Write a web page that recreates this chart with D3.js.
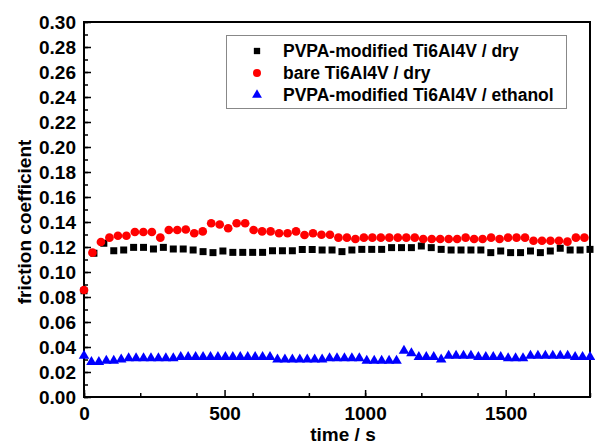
<!DOCTYPE html>
<html>
<head>
<meta charset="utf-8">
<script src="https://cdn.jsdelivr.net/npm/d3@7"></script>
<style>
  body { margin: 0; background: #fff; }
  svg { font-family: Arial, 'Liberation Sans', sans-serif; font-weight: bold; }
</style>
</head>
<body>
<svg id="chart" width="595" height="447"></svg>
<script>
// sampling length of each run, seconds
const duration = 1800
const blackStep = 1800 / 51
const redStep = 30.17
const blueStep = 1800 / 68

const blackValues = [
  0.085, 0.115, 0.123, 0.117, 0.1176, 0.1197, 0.1197, 0.1184, 0.1197, 0.1184,
  0.1184, 0.1176, 0.1163, 0.1155, 0.1168, 0.1157, 0.1157, 0.1157, 0.1157, 0.117,
  0.117, 0.117, 0.118, 0.118, 0.1176, 0.1176, 0.1163, 0.1176, 0.1181, 0.1181,
  0.1181, 0.1195, 0.1195, 0.1195, 0.1208, 0.1195, 0.1181, 0.1176, 0.1176, 0.1176,
  0.1176, 0.1155, 0.1168, 0.1155, 0.1155, 0.1168, 0.1155, 0.1168, 0.119, 0.1176,
  0.1176, 0.1181
]

const redValues = [
  0.0856, 0.1155, 0.124, 0.1275, 0.129, 0.129, 0.132, 0.132, 0.132, 0.1275,
  0.1336, 0.1336, 0.134, 0.131, 0.1325, 0.139, 0.138, 0.135, 0.139, 0.139,
  0.1336, 0.1325, 0.1325, 0.131, 0.131, 0.1325, 0.1296, 0.131, 0.1298, 0.1298,
  0.1275, 0.1275, 0.1264, 0.1275, 0.1275, 0.1275, 0.1275, 0.1275, 0.1275, 0.1275,
  0.1264, 0.1264, 0.1264, 0.1264, 0.1264, 0.1275, 0.1264, 0.1264, 0.1275, 0.1264,
  0.1275, 0.1275, 0.1275, 0.125, 0.125, 0.125, 0.125, 0.1243, 0.1275, 0.1275
]

const blueValues = [
  0.033, 0.028, 0.028, 0.029, 0.029, 0.030, 0.031, 0.031, 0.031, 0.031,
  0.031, 0.031, 0.031, 0.032, 0.032, 0.032, 0.032, 0.032, 0.032, 0.032,
  0.032, 0.032, 0.032, 0.032, 0.032, 0.032, 0.030, 0.030, 0.030, 0.030,
  0.030, 0.030, 0.030, 0.031, 0.031, 0.031, 0.031, 0.031, 0.029, 0.029,
  0.029, 0.029, 0.029, 0.037, 0.035, 0.032, 0.032, 0.032, 0.030, 0.033,
  0.033, 0.033, 0.033, 0.032, 0.032, 0.032, 0.032, 0.031, 0.031, 0.031,
  0.033, 0.033, 0.033, 0.033, 0.033, 0.033, 0.032, 0.032, 0.032
]

const seriesNames = [
  'PVPA-modified Ti6Al4V / dry',
  'bare Ti6Al4V / dry',
  'PVPA-modified Ti6Al4V / ethanol'
]

const xTicks = [0, 500, 1000, 1500]
const yTicks = [0, 0.02, 0.04, 0.06, 0.08, 0.10, 0.12, 0.14, 0.16, 0.18, 0.20, 0.22, 0.24, 0.26, 0.28, 0.30]

const margin = { top: 22, right: 5, bottom: 50, left: 84 }
const width = 595 - margin.left - margin.right
const height = 447 - margin.top - margin.bottom

const svg = d3.select('#chart')
const g = svg.append('g')
  .attr('transform', 'translate(' + margin.left + ',' + margin.top + ')')

const x = d3.scaleLinear().domain([0, duration]).range([0, width])
const y = d3.scaleLinear().domain([0, 0.30]).range([height, 0])

function toPoints (values, step) {
  return values.map((v, i) => ({ t: i * step, v: v }))
}

const series = [
  { name: seriesNames[0], data: toPoints(blackValues, blackStep), color: '#000', symbol: d3.symbolSquare, size: 49, legendSize: 40 },
  { name: seriesNames[1], data: toPoints(redValues, redStep), color: '#ff0000', symbol: d3.symbolCircle, size: 60, legendSize: 50 },
  { name: seriesNames[2], data: toPoints(blueValues, blueStep), color: '#0000ff', symbol: d3.symbolTriangle, size: 48, legendSize: 42 }
]

// frame
g.append('rect')
  .attr('width', width)
  .attr('height', height)
  .attr('fill', 'none')
  .attr('stroke', '#000')
  .attr('stroke-width', 2)

// markers, blue under black under red like the original
const order = [2, 0, 1]
order.forEach(k => {
  const s = series[k]
  g.append('g')
    .selectAll('path')
    .data(s.data)
    .enter()
    .append('path')
    .attr('transform', d => 'translate(' + x(d.t) + ',' + y(d.v) + ')')
    .attr('d', d3.symbol().type(s.symbol).size(s.size))
    .attr('fill', s.color)
})

// axes with inward ticks
const xAxis = g.append('g')
  .attr('transform', 'translate(0,' + height + ')')
  .call(d3.axisBottom(x).tickValues(xTicks).tickSize(0).tickPadding(10).tickFormat(d3.format('d')))
xAxis.select('.domain').remove()
xAxis.selectAll('text').attr('font-size', 19).attr('font-weight', 'bold').attr('fill', '#000')

g.append('g')
  .attr('transform', 'translate(0,' + height + ')')
  .call(d3.axisTop(x).ticks(8).tickSize(4).tickFormat(''))
  .call(a => a.select('.domain').remove())
  .call(a => a.selectAll('line').attr('stroke-width', 1.5))
g.append('g')
  .attr('transform', 'translate(0,' + height + ')')
  .call(d3.axisTop(x).tickValues(xTicks).tickSize(7).tickFormat(''))
  .call(a => a.select('.domain').remove())
  .call(a => a.selectAll('line').attr('stroke-width', 1.5))

const yAxis = g.append('g')
  .call(d3.axisLeft(y).tickValues(yTicks).tickSize(0).tickPadding(8).tickFormat(d3.format('.2f')))
yAxis.select('.domain').remove()
yAxis.selectAll('text').attr('font-size', 19).attr('font-weight', 'bold').attr('fill', '#000')

g.append('g')
  .call(d3.axisRight(y).ticks(30).tickSize(4).tickFormat(''))
  .call(a => a.select('.domain').remove())
  .call(a => a.selectAll('line').attr('stroke-width', 1.5))
g.append('g')
  .call(d3.axisRight(y).tickValues(yTicks).tickSize(7).tickFormat(''))
  .call(a => a.select('.domain').remove())
  .call(a => a.selectAll('line').attr('stroke-width', 1.5))

// axis titles
svg.append('text')
  .attr('x', 343)
  .attr('y', 441)
  .attr('text-anchor', 'middle')
  .attr('font-size', 19)
  .text('time / s')

svg.append('text')
  .attr('transform', 'translate(31,222) rotate(-90)')
  .attr('text-anchor', 'middle')
  .attr('font-size', 19)
  .text('friction coefficient')

// legend
const legend = svg.append('g')
legend.append('rect')
  .attr('x', 226.5)
  .attr('y', 35.5)
  .attr('width', 340)
  .attr('height', 73)
  .attr('fill', '#fff')
  .attr('stroke', '#888')
  .attr('stroke-width', 1)

series.forEach((s, i) => {
  const row = legend.append('g')
    .attr('transform', 'translate(257,' + (51 + i * 22) + ')')
  row.append('path')
    .attr('d', d3.symbol().type(s.symbol).size(s.legendSize))
    .attr('fill', s.color)
  row.append('text')
    .attr('x', 26)
    .attr('y', 6)
    .attr('font-size', 17.5)
    .text(s.name)
})
</script>
</body>
</html>
